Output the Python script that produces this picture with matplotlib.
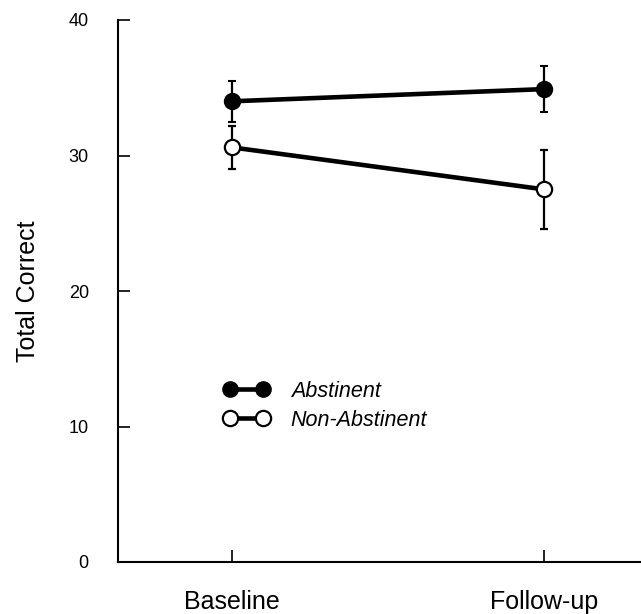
import numpy as np
import matplotlib
matplotlib.use("Agg")
import matplotlib.pyplot as plt
from matplotlib.lines import Line2D

plt.rcParams['font.family'] = ['Liberation Sans', 'DejaVu Sans']

# data
sessions = ["Baseline", "Follow-up"]
abstinent = [34.0, 34.9]
abstinent_err = [1.5, 1.7]
non_abstinent = [30.6, 27.5]
non_abstinent_err = [1.6, 2.9]

x = np.arange(len(sessions))

fig = plt.figure(figsize=(6.41, 6.14), dpi=100)
ax = fig.add_axes([118 / 641, 52 / 614, 1 - 118 / 641, 542 / 614])

ax.errorbar(x, abstinent, yerr=abstinent_err, fmt='-o', color='black',
            lw=3.3, ms=11, mfc='black', mec='black', mew=1.5,
            elinewidth=1.6, capsize=3.2, capthick=1.6, label='Abstinent')
ax.errorbar(x, non_abstinent, yerr=non_abstinent_err, fmt='-o', color='black',
            lw=3.3, ms=11, mfc='white', mec='black', mew=1.6,
            elinewidth=1.6, capsize=3.2, capthick=1.6, label='Non-Abstinent')

ax.set_xlim(-0.365, 1.311)
ax.set_ylim(0, 40)
ax.set_xticks(x)
ax.set_xticklabels(sessions, fontsize=18)
ax.set_yticks([0, 10, 20, 30, 40])
ax.tick_params(direction='in', length=8.5, width=1.2)
ax.tick_params(axis='x', pad=20)
ax.tick_params(axis='y', pad=21, labelsize=13)
ax.set_ylabel("Total Correct", fontsize=18, labelpad=21)

for side in ['top', 'right']:
    ax.spines[side].set_visible(False)
for side in ['left', 'bottom']:
    ax.spines[side].set_linewidth(1.5)

# legend: line with a marker at each end, no error bars
handles = [
    Line2D([], [], color='black', lw=3.3, marker='o', ms=11, mfc='black', mec='black'),
    Line2D([], [], color='black', lw=3.3, marker='o', ms=11, mfc='white', mec='black', mew=1.6),
]
ax.legend(handles, ['Abstinent', 'Non-Abstinent'], numpoints=2,
          handlelength=2.1, handletextpad=1.0, labelspacing=0.36,
          frameon=False, borderpad=0, borderaxespad=0,
          loc='upper left', bbox_to_anchor=(224 / 641, 1 - 381 / 614),
          bbox_transform=fig.transFigure,
          prop={'style': 'italic', 'size': 15.5})

fig.savefig("out.png", dpi=100)
